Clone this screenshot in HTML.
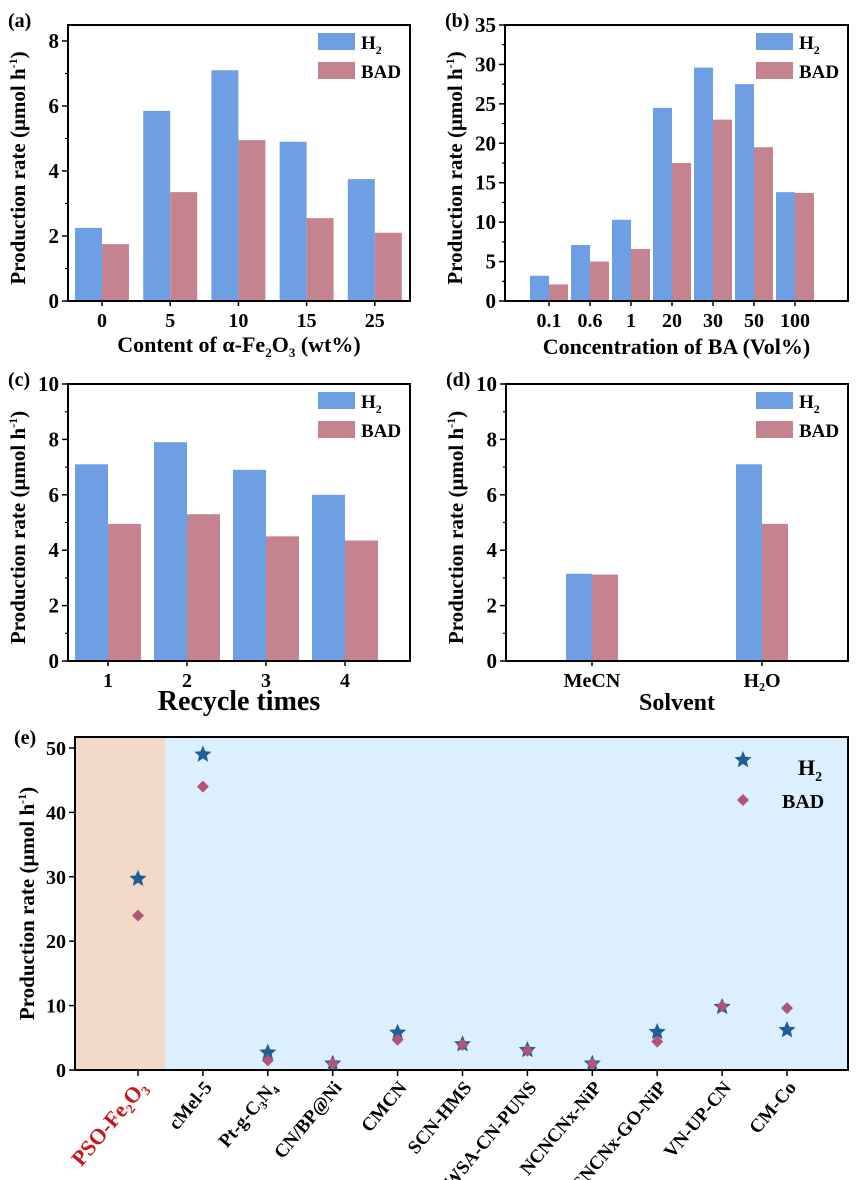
<!DOCTYPE html>
<html><head><meta charset="utf-8"><style>
body{margin:0;background:#fff}
svg{display:block;font-family:"Liberation Serif",serif;font-weight:bold}
</style></head><body>
<svg id="s" width="866" height="1180" viewBox="0 0 866 1180"></svg>
<script>
const aCats=["0","5","10","15","25"], aH2=[2.25,5.85,7.1,4.9,3.75], aBAD=[1.75,3.35,4.95,2.55,2.1], aTicks=[0,2,4,6,8];
const bCats=["0.1","0.6","1","20","30","50","100"], bH2=[3.2,7.1,10.3,24.5,29.6,27.5,13.8], bBAD=[2.1,5,6.6,17.5,23,19.5,13.7], bTicks=[0,5,10,15,20,25,30,35];
const cCats=["1","2","3","4"], cH2=[7.1,7.9,6.9,6.0], cBAD=[4.95,5.3,4.5,4.35], cTicks=[0,2,4,6,8,10];
const dCats=["MeCN","H₂O"], dH2=[3.15,7.1], dBAD=[3.12,4.95], dTicks=[0,2,4,6,8,10];
const eCats=["PSO-Fe₂O₃","cMel-5","Pt-g-C₃N₄","CN/BP@Ni","CMCN","SCN-HMS","WSA-CN-PUNS","NCNCNx-NiP","NCNCNx-GO-NiP","VN-UP-CN","CM-Co"];
const eH2=[29.7,49,2.7,1,5.8,4,3.1,1,5.9,9.8,6.2], eBAD=[24,44,1.5,1,4.7,3.9,3,1,4.4,9.9,9.6], eTicks=[0,10,20,30,40,50];
const NS="http://www.w3.org/2000/svg", S=document.getElementById('s');
function el(t,a,p,txt){const e=document.createElementNS(NS,t);for(const k in a)e.setAttribute(k,a[k]);if(txt!==undefined)e.textContent=txt;(p||S).appendChild(e);return e;}
const BLUE="#6f9fe3", PINK="#c5838f";
function panel(o){
  const g=el('g',{});
  
  
  const ymax=o.ticks[o.ticks.length-1];
  const Y=v=>o.y1-(v/ymax)*(o.y1-o.y0)*o.topFrac;
  const X=i=>o.c0+i*o.step;
  o.cats.forEach((c,i)=>{
    const r1=el('rect',{x:X(i)-o.bw,y:Y(o.h2[i]),width:o.bw,height:o.y1-Y(o.h2[i]),fill:BLUE},g);
    
    
    const r2=el('rect',{x:X(i),y:Y(o.bad[i]),width:o.bw,height:o.y1-Y(o.bad[i]),fill:PINK},g);
    
    
    el('line',{x1:X(i),x2:X(i),y1:o.y1,y2:o.y1+5,stroke:'#000','stroke-width':1.5},g);
    const t=el('text',{x:X(i),y:o.y1+26,'text-anchor':'middle','font-size':o.xfs||20},g,c);
    
    
  });
  el('rect',{x:o.x0,y:o.y0,width:o.x1-o.x0,height:o.y1-o.y0,fill:'none',stroke:'#000','stroke-width':2},g);
  o.ticks.forEach((v,i)=>{
    el('line',{x1:o.x0-6,x2:o.x0,y1:Y(v),y2:Y(v),stroke:'#000','stroke-width':1.5},g);
    if(i<o.ticks.length-1){const m=Y(v+(o.ticks[1]-o.ticks[0])/2);el('line',{x1:o.x0-3,x2:o.x0,y1:m,y2:m,stroke:'#000','stroke-width':1.2},g);}
    const t=el('text',{x:o.x0-9,y:Y(v)+7,'text-anchor':'end','font-size':21},g,v);
    
    
  });
  const yl=el('text',{transform:`translate(${o.x0-43},${(o.y0+o.y1)/2+5}) rotate(-90)`,'text-anchor':'middle','font-size':21},g);
  yl.innerHTML='Production rate (μmol h<tspan font-size="12" dy="-8">-1</tspan><tspan dy="8">)</tspan>';
  
  
  const xl=el('text',{x:(o.x0+o.x1)/2,y:o.xly,'text-anchor':'middle','font-size':o.xlfs||22},g);
  xl.innerHTML=o.xlabel;
  
  
  const pl=el('text',{x:o.x0-60,y:o.y0+2,'font-size':20},g,o.tag);
  
  
  const lx=o.x1-92;
  const l1=el('rect',{x:lx,y:o.y0+8,width:37,height:17,fill:BLUE},g);
  
  
  const t1=el('text',{x:lx+43,y:o.y0+24,'font-size':19},g);t1.innerHTML='H<tspan font-size="12" dy="5">2</tspan>';
  const l2=el('rect',{x:lx,y:o.y0+37,width:37,height:17,fill:PINK},g);
  
  
  el('text',{x:lx+43,y:o.y0+53,'font-size':19},g,'BAD');
}
panel({name:'panel-a',tag:'(a)',cats:aCats,h2:aH2,bad:aBAD,ticks:aTicks,x0:68,x1:410,y0:25,y1:301,topFrac:(301-41)/276,c0:102,step:68.2,bw:27,xly:352,xlabel:'Content of α-Fe<tspan font-size="13" dy="5">2</tspan><tspan dy="-5">O</tspan><tspan font-size="13" dy="5">3</tspan><tspan dy="-5"> (wt%)</tspan>'});
panel({name:'panel-b',tag:'(b)',cats:bCats,h2:bH2,bad:bBAD,ticks:bTicks,x0:505,x1:848,y0:25,y1:301,topFrac:1,c0:549,step:41,bw:19,xly:354,xlabel:'Concentration of BA (Vol%)'});
panel({name:'panel-c',tag:'(c)',cats:cCats,h2:cH2,bad:cBAD,ticks:cTicks,x0:68,x1:410,y0:384,y1:661,topFrac:1,c0:108,step:79,bw:33,xly:710,xlfs:28,xlabel:'Recycle times'});
panel({name:'panel-d',tag:'(d)',cats:dCats,h2:dH2,bad:dBAD,ticks:dTicks,x0:506,x1:848,y0:384,y1:661,topFrac:1,c0:592,step:170,bw:26,xly:710,xlfs:24,xlabel:'Solvent'});
</script>
<script>
(function(){
  const x0=75,x1=848,y0=737,y1=1070,ymax=50,ytop=748;
  const Y=v=>y1-v/ymax*(y1-ytop);
  const X=i=>138+i*64.9;
  const g=el('g',{});
  
  
  el('rect',{x:x0,y:y0,width:x1-x0,height:y1-y0,fill:'#dcefff'},g);
  el('rect',{x:x0,y:y0,width:90,height:y1-y0,fill:'#f3d9c8'},g);
  el('rect',{x:x0,y:y0,width:x1-x0,height:y1-y0,fill:'none',stroke:'#000','stroke-width':2},g);
  eTicks.forEach(v=>{
    el('line',{x1:x0-6,x2:x0,y1:Y(v),y2:Y(v),stroke:'#000','stroke-width':1.5},g);
    const t=el('text',{x:x0-9,y:Y(v)+7,'text-anchor':'end','font-size':20},g,v);
    
    
  });
  const star=(cx,cy,r)=>{let p=[];for(let k=0;k<10;k++){const a=-Math.PI/2+k*Math.PI/5,rr=k%2?r*0.45:r;p.push((cx+rr*Math.cos(a)).toFixed(1)+','+(cy+rr*Math.sin(a)).toFixed(1));}return p.join(' ');};
  const dia=(cx,cy,r)=>`${cx},${cy-r} ${cx+r},${cy} ${cx},${cy+r} ${cx-r},${cy}`;
  eCats.forEach((c,i)=>{
    el('line',{x1:X(i),x2:X(i),y1:y1,y2:y1+6,stroke:'#000','stroke-width':1.5},g);
    const s=el('polygon',{points:star(X(i),Y(eH2[i]),9),fill:'#1f5f96'},g);
    
    
    const d=el('polygon',{points:dia(X(i),Y(eBAD[i]),6),fill:'#b05575'},g);
    
    
    const t=el('text',{transform:`translate(${X(i)+10},${y1+18}) rotate(-50)`,'text-anchor':'end','font-size':19,fill:i==0?'#c8161d':'#000'},g,c);
    if(i==0)t.setAttribute('font-size',22);
    
    
  });
  const yl=el('text',{transform:`translate(34,${(y0+y1)/2}) rotate(-90)`,'text-anchor':'middle','font-size':21},g);
  yl.innerHTML='Production rate (μmol h<tspan font-size="12" dy="-8">-1</tspan><tspan dy="8">)</tspan>';
  
  
  el('text',{x:14,y:744,'font-size':20},g,'(e)');
  const ls=el('polygon',{points:star(743,760,9),fill:'#1f5f96'},g);
  
  
  const lt=el('text',{x:798,y:775,'font-size':22},g);lt.innerHTML='H<tspan font-size="14" dy="6">2</tspan>';
  const ld=el('polygon',{points:dia(743,800,6),fill:'#b05575'},g);
  
  
  el('text',{x:782,y:808,'font-size':20},g,'BAD');
})();
</script>
</body></html>
